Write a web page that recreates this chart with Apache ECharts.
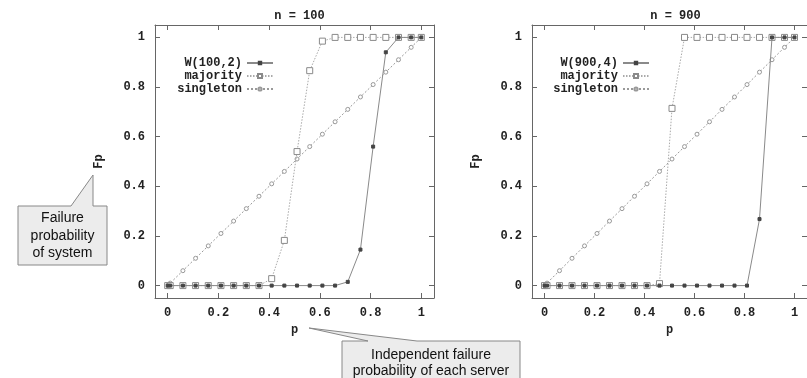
<!DOCTYPE html>
<html>
<head>
<meta charset="utf-8">
<script src="https://cdn.jsdelivr.net/npm/echarts@6/dist/echarts.min.js"></script>
<style>
html,body{margin:0;padding:0;background:#fff;}
#chart{width:807px;height:378px;}
</style>
</head>
<body>
<div id="chart"></div>
<script>
// ---- data ----
const pValues = [0, 0.01, 0.06, 0.11, 0.16, 0.21, 0.26, 0.31, 0.36, 0.41, 0.46, 0.51, 0.56, 0.61, 0.66, 0.71, 0.76, 0.81, 0.86, 0.91, 0.96, 1.0];
const w100 = [0, 0, 0, 0, 0, 0, 0, 0, 0, 0, 0, 0, 0, 0, 0, 0.015, 0.145, 0.56, 0.94, 1, 1, 1];
const majority100 = [0, 0, 0, 0, 0, 0, 0, 0, 0, 0.028, 0.182, 0.54, 0.866, 0.985, 1, 1, 1, 1, 1, 1, 1, 1];
const singleton100 = [0, 0.01, 0.06, 0.11, 0.16, 0.21, 0.26, 0.31, 0.36, 0.41, 0.46, 0.51, 0.56, 0.61, 0.66, 0.71, 0.76, 0.81, 0.86, 0.91, 0.96, 1.0];
const w900 = [0, 0, 0, 0, 0, 0, 0, 0, 0, 0, 0, 0, 0, 0, 0, 0, 0, 0, 0.268, 1, 1, 1];
const majority900 = [0, 0, 0, 0, 0, 0, 0, 0, 0, 0, 0.008, 0.714, 1, 1, 1, 1, 1, 1, 1, 1, 1, 1];
const singleton900 = [0, 0.01, 0.06, 0.11, 0.16, 0.21, 0.26, 0.31, 0.36, 0.41, 0.46, 0.51, 0.56, 0.61, 0.66, 0.71, 0.76, 0.81, 0.86, 0.91, 0.96, 1.0];
const xTicks = [0, 0.2, 0.4, 0.6, 0.8, 1];
const yTicks = [0, 0.2, 0.4, 0.6, 0.8, 1];
const titles = ['n = 100', 'n = 900'];
const seriesNames = [['W(100,2)', 'majority', 'singleton'], ['W(900,4)', 'majority', 'singleton']];
const xName = 'p';
const yName = 'Fp';
const callout1 = ['Failure', 'probability', 'of system'];
const callout2 = ['Independent failure', 'probability of each server'];

// ---- styles ----
const MONO = '"Liberation Mono", "DejaVu Sans Mono", monospace';
const SANS = '"Liberation Sans", Arial, sans-serif';
const frameColor = '#666';
const grids = [
  {left: 155, top: 25, width: 279, height: 273},
  {left: 532, top: 25, width: 277, height: 273}
];

function pair(xs, ys) { return xs.map((x, i) => [x, ys[i]]); }

const xAxes = [], yAxes = [];
grids.forEach((g, gi) => {
  const tickStyle = {show: true, inside: true, length: 5, lineStyle: {color: frameColor, width: 1}};
  xAxes.push({
    gridIndex: gi, type: 'value', min: -0.05, max: 1.05, position: 'bottom',
    name: xName, nameLocation: 'middle', nameGap: 21,
    nameTextStyle: {fontFamily: MONO, fontSize: 12, fontWeight: 'bold', color: '#222'},
    axisLine: {show: true, onZero: false, lineStyle: {color: frameColor, width: 1}},
    axisTick: Object.assign({customValues: xTicks}, tickStyle),
    axisLabel: {customValues: xTicks, margin: 9, fontFamily: MONO, fontSize: 12, fontWeight: 'bold', color: '#222', formatter: v => String(v)},
    splitLine: {show: false}
  });
  xAxes.push({
    gridIndex: gi, type: 'value', min: -0.05, max: 1.05, position: 'top',
    axisLine: {show: true, onZero: false, lineStyle: {color: frameColor, width: 1}},
    axisTick: Object.assign({customValues: xTicks}, tickStyle),
    axisLabel: {show: false}, splitLine: {show: false}
  });
  yAxes.push({
    gridIndex: gi, type: 'value', min: -0.05, max: 1.05, position: 'left',
    name: yName, nameLocation: 'middle', nameGap: 50, nameRotate: 90,
    nameTextStyle: {fontFamily: MONO, fontSize: 12, fontWeight: 'bold', color: '#222'},
    axisLine: {show: true, onZero: false, lineStyle: {color: frameColor, width: 1}},
    axisTick: Object.assign({customValues: yTicks}, tickStyle),
    axisLabel: {customValues: yTicks, margin: 10, fontFamily: MONO, fontSize: 12, fontWeight: 'bold', color: '#222', formatter: v => String(v)},
    splitLine: {show: false}
  });
  yAxes.push({
    gridIndex: gi, type: 'value', min: -0.05, max: 1.05, position: 'right',
    axisLine: {show: true, onZero: false, lineStyle: {color: frameColor, width: 1}},
    axisTick: Object.assign({customValues: yTicks}, tickStyle),
    axisLabel: {show: false}, splitLine: {show: false}
  });
});

const dataSets = [[w100, majority100, singleton100], [w900, majority900, singleton900]];
const styleDefs = [
  {symbol: 'rect', symbolSize: 3, line: {color: '#8a8a8a', width: 1, type: 'solid'}, item: {color: '#444', borderColor: '#444', borderWidth: 1}},
  {symbol: 'rect', symbolSize: 6, line: {color: '#aaa', width: 1, type: [1.5, 1.5]}, item: {color: '#fff', borderColor: '#8a8a8a', borderWidth: 1}},
  {symbol: 'circle', symbolSize: 4, line: {color: '#999', width: 1, type: [2, 2]}, item: {color: '#fff', borderColor: '#999', borderWidth: 1}}
];
const series = [];
dataSets.forEach((sets, gi) => {
  sets.forEach((ys, si) => {
    const st = styleDefs[si];
    series.push({
      type: 'line', name: seriesNames[gi][si],
      xAxisIndex: gi * 2, yAxisIndex: gi * 2,
      data: pair(pValues, ys),
      symbol: st.symbol, symbolSize: st.symbolSize, showAllSymbol: true,
      lineStyle: st.line, itemStyle: st.item,
      z: 5 - si, animation: false, silent: true
    });
  });
});

const legendRight = [807 - 274, 807 - 650];
const legendTops = [57, 70, 83];
const legendIconH = [3, 5, 4];
const legends = [];
seriesNames.forEach((names, gi) => {
  names.forEach((nm, si) => {
    legends.push({
      data: [nm], orient: 'vertical', align: 'right',
      right: legendRight[gi], top: legendTops[si],
      itemWidth: 26, itemHeight: legendIconH[si], itemGap: 0, padding: 0,
      selectedMode: false,
      textStyle: {fontFamily: MONO, fontSize: 12, fontWeight: 'bold', color: '#222', padding: [0, 0, 0, 0]}
    });
  });
});

const titleComps = titles.map((t, i) => ({
  text: t, left: grids[i].left + (i === 0 ? 279 : 277) / 2, top: 5, textAlign: 'center',
  textStyle: {fontFamily: MONO, fontSize: 12, fontWeight: 'bold', color: '#222'}
}));

const calloutFill = '#ececec', calloutStroke = '#888';
const graphic = [
  {type: 'polygon', shape: {points: [[18, 206], [71, 206], [93, 175], [93, 206], [107, 206], [107, 265], [18, 265]]},
   style: {fill: calloutFill, stroke: calloutStroke, lineWidth: 1}, z: 10},
  {type: 'polygon', shape: {points: [[342, 341], [368, 341], [309, 328], [417, 341], [520, 341], [520, 390], [342, 390]]},
   style: {fill: calloutFill, stroke: calloutStroke, lineWidth: 1}, z: 10}
];
callout1.forEach((line, i) => {
  graphic.push({type: 'text', x: 62.5, y: 218.5 + i * 17.5, z: 11,
    style: {text: line, textAlign: 'center', textVerticalAlign: 'middle', font: '14px ' + SANS, fill: '#111'}});
});
callout2.forEach((line, i) => {
  graphic.push({type: 'text', x: 431, y: 355 + i * 16, z: 11,
    style: {text: line, textAlign: 'center', textVerticalAlign: 'middle', font: '14px ' + SANS, fill: '#111'}});
});

const chart = echarts.init(document.getElementById('chart'), null, {renderer: 'canvas'});
chart.setOption({
  backgroundColor: '#fff',
  animation: false,
  title: titleComps,
  grid: grids,
  xAxis: xAxes,
  yAxis: yAxes,
  legend: legends,
  series: series,
  graphic: graphic
});
</script>
</body>
</html>
